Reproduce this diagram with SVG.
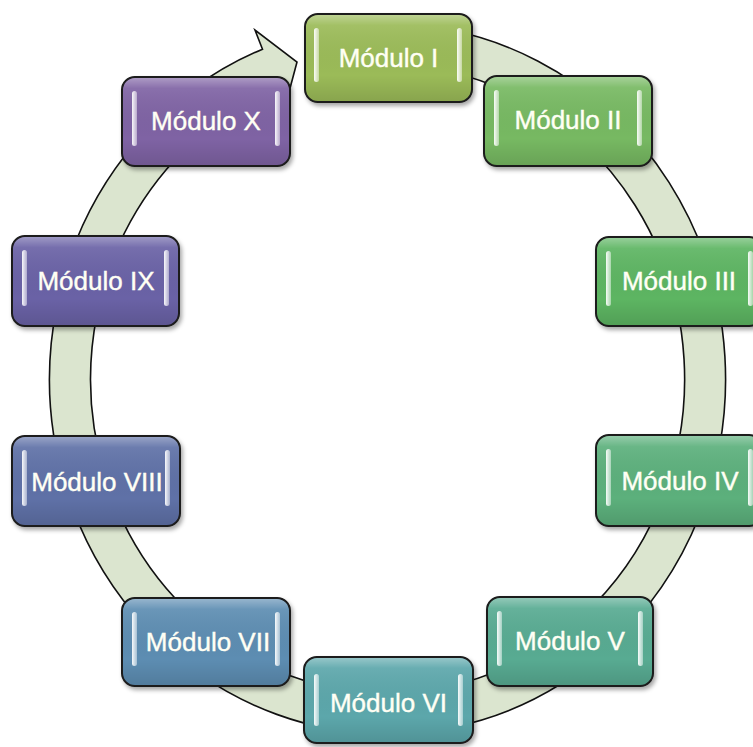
<svg xmlns="http://www.w3.org/2000/svg" width="753" height="747" viewBox="0 0 753 747">
<style>
.box{stroke:#1a1a1a;stroke-width:2}
.gloss{fill:url(#gl);stroke:none}
.bar{fill:url(#bg);stroke:none}
.lbl{font-family:"Liberation Sans",Arial,sans-serif;font-size:26px;fill:#fffff4;stroke:#fffff4;stroke-width:0.4;text-anchor:middle}
.ring{fill:#dbe5cf;stroke:#111;stroke-width:1.6;stroke-linejoin:miter}
</style>
<defs>
<linearGradient id="gl" x1="0" y1="0" x2="0" y2="1">
<stop offset="0" stop-color="#fff" stop-opacity="0.35"/>
<stop offset="0.12" stop-color="#fff" stop-opacity="0.08"/>
<stop offset="0.7" stop-color="#000" stop-opacity="0"/>
<stop offset="1" stop-color="#000" stop-opacity="0.12"/>
</linearGradient>
<linearGradient id="bg" x1="0" y1="0" x2="1" y2="0">
<stop offset="0" stop-color="#fff" stop-opacity="0.95"/>
<stop offset="1" stop-color="#fff" stop-opacity="0.45"/>
</linearGradient>
<filter id="sh" x="-10%" y="-10%" width="125%" height="130%">
<feDropShadow dx="2" dy="3" stdDeviation="2" flood-color="#000" flood-opacity="0.35"/>
</filter>
</defs>
<g id="connectors">
<path class="ring" d="M387.5,24 A338 355 0 1 1 262.5,49.2 L255,30 L297,62 L285,107 L277.7,87.3 A297 314 0 1 0 387.5,65 Z"/>
</g>
<g id="m1">
<rect class="box" x="305" y="14" width="167" height="88" rx="13" fill="#9bbb59" filter="url(#sh)"/>
<rect class="gloss" x="306" y="15" width="165" height="86" rx="12"/>
<rect class="bar" x="314" y="28" width="5" height="54" rx="2.5"/>
<rect class="bar" x="457" y="28" width="5" height="54" rx="2.5"/>
<text class="lbl" x="388.5" y="67">Módulo I</text>
</g>
<g id="m2">
<rect class="box" x="484" y="76" width="168" height="90" rx="13" fill="#77b962" filter="url(#sh)"/>
<rect class="gloss" x="485" y="77" width="166" height="88" rx="12"/>
<rect class="bar" x="494" y="90" width="5" height="56" rx="2.5"/>
<rect class="bar" x="637" y="90" width="5" height="56" rx="2.5"/>
<text class="lbl" x="568" y="129">Módulo II</text>
</g>
<g id="m3">
<rect class="box" x="596" y="237" width="166" height="89" rx="13" fill="#5db562" filter="url(#sh)"/>
<rect class="gloss" x="597" y="238" width="164" height="87" rx="12"/>
<rect class="bar" x="606" y="251" width="5" height="55" rx="2.5"/>
<rect class="bar" x="748" y="251" width="5" height="55" rx="2.5"/>
<text class="lbl" x="679" y="290">Módulo III</text>
</g>
<g id="m4">
<rect class="box" x="596" y="435" width="166" height="91" rx="13" fill="#5bb07c" filter="url(#sh)"/>
<rect class="gloss" x="597" y="436" width="164" height="89" rx="12"/>
<rect class="bar" x="606" y="449" width="5" height="57" rx="2.5"/>
<rect class="bar" x="748" y="449" width="5" height="57" rx="2.5"/>
<text class="lbl" x="680" y="490">Módulo IV</text>
</g>
<g id="m5">
<rect class="box" x="487" y="597" width="166" height="89" rx="13" fill="#59ab92" filter="url(#sh)"/>
<rect class="gloss" x="488" y="598" width="164" height="87" rx="12"/>
<rect class="bar" x="497" y="611" width="5" height="55" rx="2.5"/>
<rect class="bar" x="638" y="611" width="5" height="55" rx="2.5"/>
<text class="lbl" x="570" y="650">Módulo V</text>
</g>
<g id="m6">
<rect class="box" x="304" y="657" width="169" height="86" rx="13" fill="#5ba7ab" filter="url(#sh)"/>
<rect class="gloss" x="305" y="658" width="167" height="84" rx="12"/>
<rect class="bar" x="314" y="674" width="5" height="52" rx="2.5"/>
<rect class="bar" x="458" y="674" width="5" height="52" rx="2.5"/>
<text class="lbl" x="388.5" y="712">Módulo VI</text>
</g>
<g id="m7">
<rect class="box" x="122" y="598" width="168" height="88" rx="13" fill="#5d8db2" filter="url(#sh)"/>
<rect class="gloss" x="123" y="599" width="166" height="86" rx="12"/>
<rect class="bar" x="132" y="612" width="5" height="54" rx="2.5"/>
<rect class="bar" x="275" y="612" width="5" height="54" rx="2.5"/>
<text class="lbl" x="208" y="651">Módulo VII</text>
</g>
<g id="m8">
<rect class="box" x="12" y="436" width="168" height="90" rx="13" fill="#5f71a7" filter="url(#sh)"/>
<rect class="gloss" x="13" y="437" width="166" height="88" rx="12"/>
<rect class="bar" x="22" y="450" width="5" height="56" rx="2.5"/>
<rect class="bar" x="165" y="450" width="5" height="56" rx="2.5"/>
<text class="lbl" x="97" y="491">Módulo VIII</text>
</g>
<g id="m9">
<rect class="box" x="12" y="236" width="167" height="90" rx="13" fill="#6b62a6" filter="url(#sh)"/>
<rect class="gloss" x="13" y="237" width="165" height="88" rx="12"/>
<rect class="bar" x="22" y="250" width="5" height="56" rx="2.5"/>
<rect class="bar" x="164" y="250" width="5" height="56" rx="2.5"/>
<text class="lbl" x="96" y="290">Módulo IX</text>
</g>
<g id="m10">
<rect class="box" x="122" y="77" width="168" height="89" rx="13" fill="#7f64a4" filter="url(#sh)"/>
<rect class="gloss" x="123" y="78" width="166" height="87" rx="12"/>
<rect class="bar" x="132" y="91" width="5" height="55" rx="2.5"/>
<rect class="bar" x="275" y="91" width="5" height="55" rx="2.5"/>
<text class="lbl" x="206" y="130">Módulo X</text>
</g>
</svg>
